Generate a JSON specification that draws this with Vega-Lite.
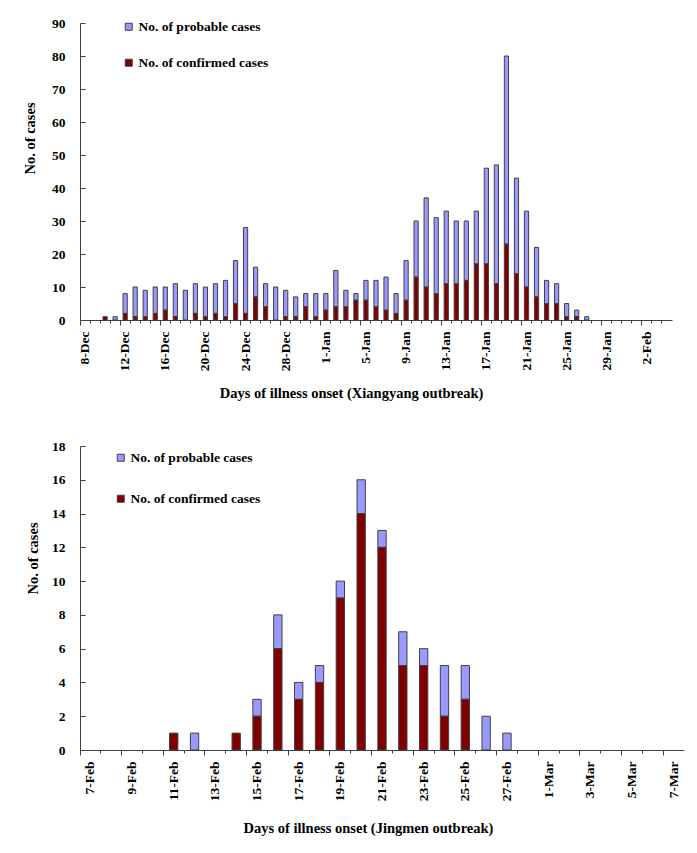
{
  "$schema": "https://vega.github.io/schema/vega-lite/v6.json",
  "padding": {"left": 22, "top": 16, "right": 5, "bottom": 5},
  "spacing": 39,
  "background": "white",
  "config": {
    "font": "Liberation Serif",
    "view": {"stroke": null},
    "axis": {
      "labelFont": "Liberation Serif", "labelFontWeight": "bold", "labelFontSize": 13.5, "labelColor": "#000",
      "titleFont": "Liberation Serif", "titleFontWeight": "bold", "titleFontSize": 14.5, "titleColor": "#000",
      "domainColor": "#404040", "tickColor": "#404040", "grid": false
    },
    "legend": {
      "labelFont": "Liberation Serif", "labelFontWeight": "bold", "labelFontSize": 13.5, "labelColor": "#000",
      "symbolType": "square", "symbolSize": 49, "symbolStrokeColor": "#404040", "symbolStrokeWidth": 1,
      "padding": 0, "labelOffset": 3, "title": null
    }
  },
  "datasets": {
    "xy": [
      {"d": "8-Dec", "confirmed": 0, "probable": 0},
      {"d": "9-Dec", "confirmed": 0, "probable": 0},
      {"d": "10-Dec", "confirmed": 1, "probable": 0},
      {"d": "11-Dec", "confirmed": 0, "probable": 1},
      {"d": "12-Dec", "confirmed": 2, "probable": 6},
      {"d": "13-Dec", "confirmed": 1, "probable": 9},
      {"d": "14-Dec", "confirmed": 1, "probable": 8},
      {"d": "15-Dec", "confirmed": 2, "probable": 8},
      {"d": "16-Dec", "confirmed": 3, "probable": 7},
      {"d": "17-Dec", "confirmed": 1, "probable": 10},
      {"d": "18-Dec", "confirmed": 0, "probable": 9},
      {"d": "19-Dec", "confirmed": 2, "probable": 9},
      {"d": "20-Dec", "confirmed": 1, "probable": 9},
      {"d": "21-Dec", "confirmed": 2, "probable": 9},
      {"d": "22-Dec", "confirmed": 1, "probable": 11},
      {"d": "23-Dec", "confirmed": 5, "probable": 13},
      {"d": "24-Dec", "confirmed": 2, "probable": 26},
      {"d": "25-Dec", "confirmed": 7, "probable": 9},
      {"d": "26-Dec", "confirmed": 4, "probable": 7},
      {"d": "27-Dec", "confirmed": 0, "probable": 10},
      {"d": "28-Dec", "confirmed": 1, "probable": 8},
      {"d": "29-Dec", "confirmed": 1, "probable": 6},
      {"d": "30-Dec", "confirmed": 4, "probable": 4},
      {"d": "31-Dec", "confirmed": 1, "probable": 7},
      {"d": "1-Jan", "confirmed": 3, "probable": 5},
      {"d": "2-Jan", "confirmed": 4, "probable": 11},
      {"d": "3-Jan", "confirmed": 4, "probable": 5},
      {"d": "4-Jan", "confirmed": 6, "probable": 2},
      {"d": "5-Jan", "confirmed": 6, "probable": 6},
      {"d": "6-Jan", "confirmed": 4, "probable": 8},
      {"d": "7-Jan", "confirmed": 3, "probable": 10},
      {"d": "8-Jan", "confirmed": 2, "probable": 6},
      {"d": "9-Jan", "confirmed": 6, "probable": 12},
      {"d": "10-Jan", "confirmed": 13, "probable": 17},
      {"d": "11-Jan", "confirmed": 10, "probable": 27},
      {"d": "12-Jan", "confirmed": 8, "probable": 23},
      {"d": "13-Jan", "confirmed": 11, "probable": 22},
      {"d": "14-Jan", "confirmed": 11, "probable": 19},
      {"d": "15-Jan", "confirmed": 12, "probable": 18},
      {"d": "16-Jan", "confirmed": 17, "probable": 16},
      {"d": "17-Jan", "confirmed": 17, "probable": 29},
      {"d": "18-Jan", "confirmed": 11, "probable": 36},
      {"d": "19-Jan", "confirmed": 23, "probable": 57},
      {"d": "20-Jan", "confirmed": 14, "probable": 29},
      {"d": "21-Jan", "confirmed": 10, "probable": 23},
      {"d": "22-Jan", "confirmed": 7, "probable": 15},
      {"d": "23-Jan", "confirmed": 5, "probable": 7},
      {"d": "24-Jan", "confirmed": 5, "probable": 6},
      {"d": "25-Jan", "confirmed": 1, "probable": 4},
      {"d": "26-Jan", "confirmed": 1, "probable": 2},
      {"d": "27-Jan", "confirmed": 0, "probable": 1},
      {"d": "28-Jan", "confirmed": 0, "probable": 0},
      {"d": "29-Jan", "confirmed": 0, "probable": 0},
      {"d": "30-Jan", "confirmed": 0, "probable": 0},
      {"d": "31-Jan", "confirmed": 0, "probable": 0},
      {"d": "1-Feb", "confirmed": 0, "probable": 0},
      {"d": "2-Feb", "confirmed": 0, "probable": 0},
      {"d": "3-Feb", "confirmed": 0, "probable": 0},
      {"d": "4-Feb", "confirmed": 0, "probable": 0}
    ],
    "jm": [
      {"d": "7-Feb", "confirmed": 0, "probable": 0},
      {"d": "8-Feb", "confirmed": 0, "probable": 0},
      {"d": "9-Feb", "confirmed": 0, "probable": 0},
      {"d": "10-Feb", "confirmed": 0, "probable": 0},
      {"d": "11-Feb", "confirmed": 1, "probable": 0},
      {"d": "12-Feb", "confirmed": 0, "probable": 1},
      {"d": "13-Feb", "confirmed": 0, "probable": 0},
      {"d": "14-Feb", "confirmed": 1, "probable": 0},
      {"d": "15-Feb", "confirmed": 2, "probable": 1},
      {"d": "16-Feb", "confirmed": 6, "probable": 2},
      {"d": "17-Feb", "confirmed": 3, "probable": 1},
      {"d": "18-Feb", "confirmed": 4, "probable": 1},
      {"d": "19-Feb", "confirmed": 9, "probable": 1},
      {"d": "20-Feb", "confirmed": 14, "probable": 2},
      {"d": "21-Feb", "confirmed": 12, "probable": 1},
      {"d": "22-Feb", "confirmed": 5, "probable": 2},
      {"d": "23-Feb", "confirmed": 5, "probable": 1},
      {"d": "24-Feb", "confirmed": 2, "probable": 3},
      {"d": "25-Feb", "confirmed": 3, "probable": 2},
      {"d": "26-Feb", "confirmed": 0, "probable": 2},
      {"d": "27-Feb", "confirmed": 0, "probable": 1},
      {"d": "28-Feb", "confirmed": 0, "probable": 0},
      {"d": "1-Mar", "confirmed": 0, "probable": 0},
      {"d": "2-Mar", "confirmed": 0, "probable": 0},
      {"d": "3-Mar", "confirmed": 0, "probable": 0},
      {"d": "4-Mar", "confirmed": 0, "probable": 0},
      {"d": "5-Mar", "confirmed": 0, "probable": 0},
      {"d": "6-Mar", "confirmed": 0, "probable": 0},
      {"d": "7-Mar", "confirmed": 0, "probable": 0}
    ]
  },
  "vconcat": [
    {
      "width": 592,
      "height": 297,
      "data": {"name": "xy"},
      "transform": [{"fold": ["probable", "confirmed"], "as": ["type", "count"]}],
      "mark": {"type": "bar", "stroke": "#404040", "strokeWidth": 1, "width": {"band": 0.42}},
      "encoding": {
        "x": {
          "field": "d", "type": "ordinal", "sort": null,
          "scale": {"paddingInner": 0, "paddingOuter": 0},
          "axis": {
            "title": "Days of illness onset (Xiangyang outbreak)",
            "labelAngle": -90, "labelAlign": "right", "labelBaseline": "middle",
            "bandPosition": 0, "labelPadding": 6,
            "labelExpr": "indexof(['8-Dec','12-Dec','16-Dec','20-Dec','24-Dec','28-Dec','1-Jan','5-Jan','9-Jan','13-Jan','17-Jan','21-Jan','25-Jan','29-Jan','2-Feb'], datum.value) >= 0 ? datum.value : ''",
            "tickSize": {"condition": {"test": "indexof(['8-Dec','12-Dec','16-Dec','20-Dec','24-Dec','28-Dec','1-Jan','5-Jan','9-Jan','13-Jan','17-Jan','21-Jan','25-Jan','29-Jan','2-Feb'], datum.value) >= 0", "value": 5}, "value": 3},
            "titleX": 271, "titleY": 73, "titleAlign": "center", "titleBaseline": "middle"
          }
        },
        "y": {
          "field": "count", "type": "quantitative", "stack": "zero",
          "scale": {"domain": [0, 90], "nice": false},
          "axis": {
            "title": "No. of cases", "values": [0, 10, 20, 30, 40, 50, 60, 70, 80, 90],
            "tickSize": -5, "labelPadding": 20,
            "titleX": -50, "titleY": 115, "titleAngle": -90, "titleAlign": "center", "titleBaseline": "middle"
          }
        },
        "color": {
          "field": "type", "type": "nominal",
          "scale": {"domain": ["probable", "confirmed"], "range": ["#9999FF", "#800000"]},
          "legend": {
            "orient": "none", "legendX": 42, "legendY": -3, "rowPadding": 21,
            "labelExpr": "datum.value == 'probable' ? 'No. of probable cases' : 'No. of confirmed cases'"
          }
        },
        "order": {"field": "type", "sort": "ascending"},
        "strokeOpacity": {"condition": {"test": "datum.count > 0", "value": 1}, "value": 0}
      }
    },
    {
      "width": 604,
      "height": 304,
      "data": {"name": "jm"},
      "transform": [{"fold": ["probable", "confirmed"], "as": ["type", "count"]}],
      "mark": {"type": "bar", "stroke": "#404040", "strokeWidth": 1, "width": {"band": 0.4}},
      "encoding": {
        "x": {
          "field": "d", "type": "ordinal", "sort": null,
          "scale": {"paddingInner": 0, "paddingOuter": 0},
          "axis": {
            "title": "Days of illness onset (Jingmen outbreak)",
            "labelAngle": -90, "labelAlign": "right", "labelBaseline": "middle",
            "bandPosition": 0, "labelPadding": 6,
            "labelExpr": "indexof(['7-Feb','9-Feb','11-Feb','13-Feb','15-Feb','17-Feb','19-Feb','21-Feb','23-Feb','25-Feb','27-Feb','1-Mar','3-Mar','5-Mar','7-Mar'], datum.value) >= 0 ? datum.value : ''",
            "tickSize": {"condition": {"test": "indexof(['7-Feb','9-Feb','11-Feb','13-Feb','15-Feb','17-Feb','19-Feb','21-Feb','23-Feb','25-Feb','27-Feb','1-Mar','3-Mar','5-Mar','7-Mar'], datum.value) >= 0", "value": 5}, "value": 3},
            "titleX": 288, "titleY": 78, "titleAlign": "center", "titleBaseline": "middle"
          }
        },
        "y": {
          "field": "count", "type": "quantitative", "stack": "zero",
          "scale": {"domain": [0, 18], "nice": false},
          "axis": {
            "title": "No. of cases", "values": [0, 2, 4, 6, 8, 10, 12, 14, 16, 18],
            "tickSize": -5, "labelPadding": 20,
            "titleX": -47, "titleY": 112, "titleAngle": -90, "titleAlign": "center", "titleBaseline": "middle"
          }
        },
        "color": {
          "field": "type", "type": "nominal",
          "scale": {"domain": ["probable", "confirmed"], "range": ["#9999FF", "#800000"]},
          "legend": {
            "orient": "none", "legendX": 34, "legendY": 5, "rowPadding": 26,
            "labelExpr": "datum.value == 'probable' ? 'No. of probable cases' : 'No. of confirmed cases'"
          }
        },
        "order": {"field": "type", "sort": "ascending"},
        "strokeOpacity": {"condition": {"test": "datum.count > 0", "value": 1}, "value": 0}
      }
    }
  ],
  "resolve": {"scale": {"color": "independent"}, "legend": {"color": "independent"}}
}
